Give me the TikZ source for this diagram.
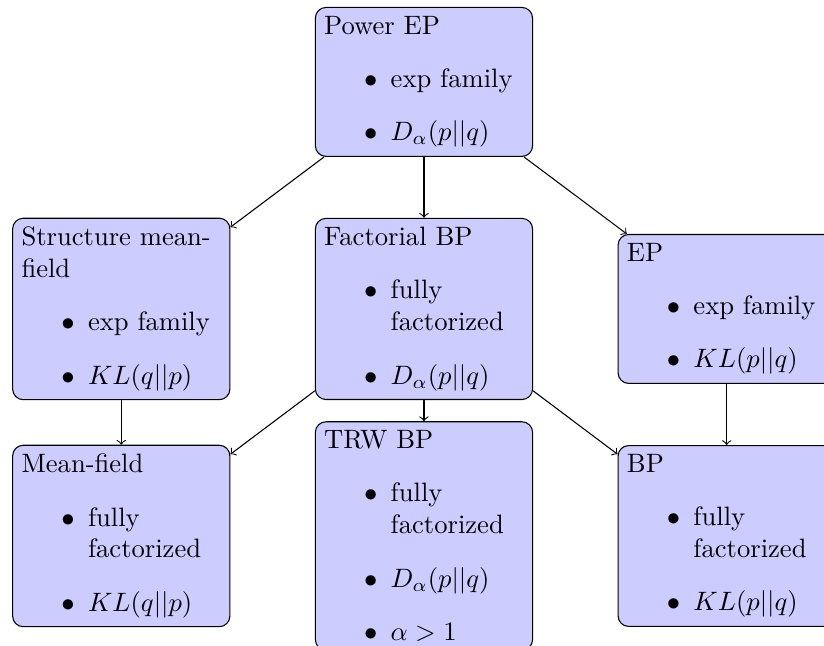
\documentclass[tikz,border=0pt]{standalone}
\usepackage{mathtools}
\usepackage{amssymb}
\usepackage{xcolor}
\usepackage{tikz}
\renewcommand{\labelitemi}{$\bullet$}

\begin{document}
\begin{tikzpicture}[algbox/.style={draw, rounded corners, fill=blue!20, text width=75pt, align=left}]
\useasboundingbox (-159.4pt,-212pt) rectangle (150.4pt,30.8pt);
\node[algbox] (powerep) at (0,0) {Power EP
  \begin{itemize}\item exp family \item $D_\alpha(p||q)$\end{itemize}};
\node[algbox] (smf) at (-4,-3) {Structure mean-field
  \begin{itemize}\item exp family \item $KL(q||p)$\end{itemize}};
\node[algbox] (fbp) at (0,-3) {Factorial BP
  \begin{itemize}\item fully factorized \item $D_\alpha(p||q)$\end{itemize}};
\node[algbox] (ep) at (4,-3) {EP
  \begin{itemize}\item exp family \item $KL(p||q)$\end{itemize}};
\node[algbox] (mf) at (-4,-6) {Mean-field
  \begin{itemize}\item fully factorized \item $KL(q||p)$\end{itemize}};
\node[algbox] (trw) at (0,-6) {TRW BP
  \begin{itemize}\item fully factorized \item $D_\alpha(p||q)$ \item $\alpha>1$\end{itemize}};
\node[algbox] (bp) at (4,-6) {BP
  \begin{itemize}\item fully factorized \item $KL(p||q)$\end{itemize}};
\draw[->] (powerep) -- (smf);
\draw[->] (powerep) -- (fbp);
\draw[->] (powerep) -- (ep);
\draw[->] (smf) -- (mf);
\draw[->] (fbp) -- (mf);
\draw[->] (fbp) -- (trw);
\draw[->] (fbp) -- (bp);
\draw[->] (ep) -- (bp);
\end{tikzpicture}
\end{document}
